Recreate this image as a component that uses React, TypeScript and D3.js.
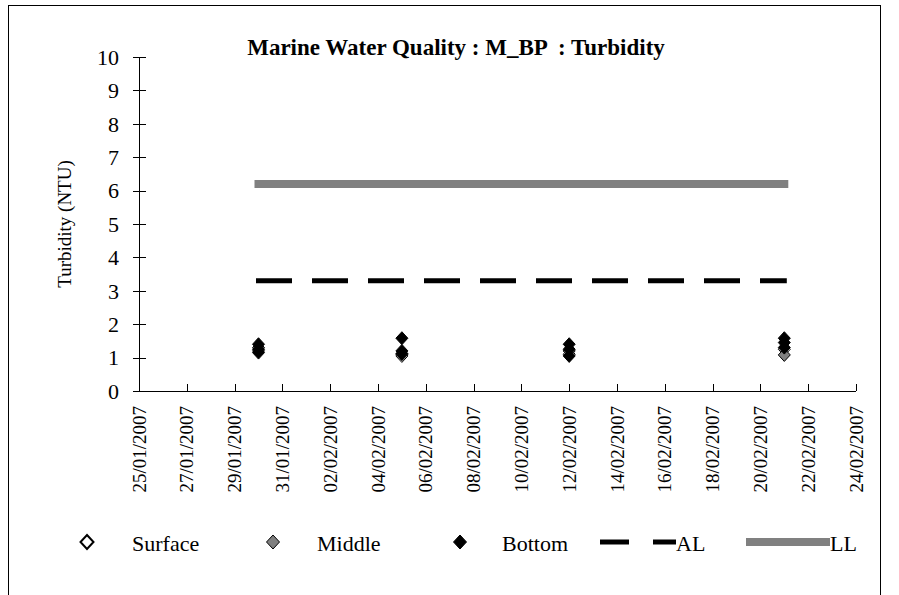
import * as d3 from 'd3';

const sampleDates = [new Date(2007, 0, 30), new Date(2007, 1, 5), new Date(2007, 1, 12), new Date(2007, 1, 21)];
const surfaceReadings = [[1.2], [1.05], [1.1], [1.25]];
const middleReadings = [[1.3], [1.1], [1.2], [1.08]];
const bottomReadings = [[1.4, 1.25, 1.15], [1.58, 1.2, 1.12], [1.4, 1.25, 1.05], [1.58, 1.45, 1.3]];
const alLevel = 3.3;
const llLevel = 6.2;
const yTicks = [0, 1, 2, 3, 4, 5, 6, 7, 8, 9, 10];
const axisStart = new Date(2007, 0, 25);
const axisEnd = new Date(2007, 1, 24);

const FONT = '"Liberation Serif", "Times New Roman", serif';
const GREY = '#808080';

function diamond(cx: number, cy: number, r = 6.5) {
  return `M${cx},${cy - r}L${cx + r - 0.5},${cy}L${cx},${cy + r}L${cx - r + 0.5},${cy}Z`;
}

export default function App() {
  const x = d3.scaleTime().domain([axisStart, axisEnd]).range([139, 856]);
  const y = d3.scaleLinear().domain([0, 10]).range([391, 57]);
  const xTicks = d3.timeDay.range(axisStart, d3.timeDay.offset(axisEnd, 1), 2);
  const fmt = d3.timeFormat('%d/%m/%Y');

  const series = [
    { name: 'Surface', readings: surfaceReadings, fill: '#ffffff' },
    { name: 'Middle', readings: middleReadings, fill: GREY },
    { name: 'Bottom', readings: bottomReadings, fill: '#000000' },
  ];

  const first = sampleDates[0];
  const last = sampleDates[sampleDates.length - 1];

  return (
    <svg width={899} height={595} style={{ position: 'absolute', left: 0, top: 0, background: '#fff' }} fontFamily={FONT}>
      <rect x={8.5} y={5.5} width={872} height={600} fill="#fff" stroke="#000" strokeWidth={1} />

      <text x={456} y={55} textAnchor="middle" fontSize={23} fontWeight="bold" style={{ whiteSpace: 'pre' }}>
        {'Marine Water Quality : M_BP  : Turbidity'}
      </text>

      {/* y axis */}
      <line x1={139.5} x2={139.5} y1={y(10)} y2={y(0)} stroke="#000" />
      {yTicks.map((t) => (
        <g key={t}>
          <line x1={133} x2={146} y1={Math.round(y(t)) + 0.5} y2={Math.round(y(t)) + 0.5} stroke="#000" />
          <text x={119} y={y(t)} dy="0.35em" textAnchor="end" fontSize={22}>
            {t}
          </text>
        </g>
      ))}
      <text transform={`translate(71,${y(5)}) rotate(-90)`} textAnchor="middle" fontSize={19}>
        Turbidity (NTU)
      </text>

      {/* x axis */}
      <line x1={x(axisStart)} x2={x(axisEnd)} y1={391.5} y2={391.5} stroke="#000" />
      {xTicks.map((d) => (
        <g key={+d}>
          <line x1={Math.round(x(d)) + 0.5} x2={Math.round(x(d)) + 0.5} y1={384} y2={391} stroke="#000" />
          <text transform={`translate(${x(d)},406) rotate(-90)`} dy="0.35em" textAnchor="end" fontSize={19}>
            {fmt(d)}
          </text>
        </g>
      ))}

      {/* limit lines */}
      <line x1={x(first)} x2={x(last)} y1={y(llLevel)} y2={y(llLevel)} stroke={GREY} strokeWidth={8} strokeLinecap="square" />
      <line
        x1={x(first) - 2.5}
        x2={x(last) + 2.5}
        y1={y(alLevel)}
        y2={y(alLevel)}
        stroke="#000"
        strokeWidth={5}
        strokeDasharray="36 20"
      />

      {/* markers */}
      {series.map((s) => (
        <g key={s.name}>
          {sampleDates.map((d, i) =>
            s.readings[i].map((v, j) => (
              <path key={`${i}-${j}`} d={diamond(x(d), y(v))} fill={s.fill} stroke="#000" strokeWidth={1} />
            ))
          )}
        </g>
      ))}

      {/* legend */}
      <g fontSize={22}>
        {series.map((s, i) => {
          const lx = [87, 273, 460][i];
          const tx = [132, 317, 502][i];
          return (
            <g key={s.name}>
              <path d={diamond(lx, 542, 7)} fill={s.fill} stroke="#000" strokeWidth={s.fill === '#ffffff' ? 2 : 1} />
              <text x={tx} y={543} dy="0.35em">
                {s.name}
              </text>
            </g>
          );
        })}
        <line x1={600} x2={629} y1={542} y2={542} stroke="#000" strokeWidth={5} />
        <line x1={653} x2={676} y1={542} y2={542} stroke="#000" strokeWidth={5} />
        <text x={676} y={543} dy="0.35em">AL</text>
        <line x1={746} x2={830} y1={542} y2={542} stroke={GREY} strokeWidth={8} />
        <text x={830} y={543} dy="0.35em">LL</text>
      </g>
    </svg>
  );
}
